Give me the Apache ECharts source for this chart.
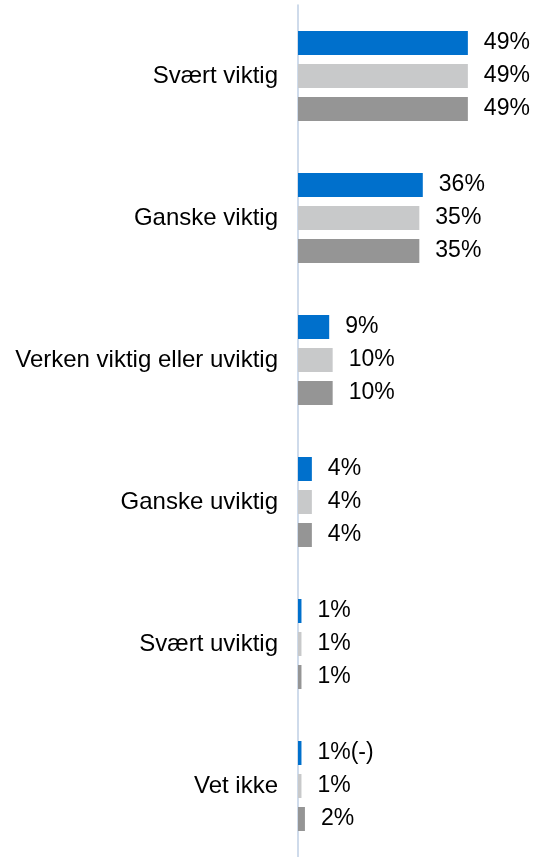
<!DOCTYPE html>
<html>
<head>
<meta charset="utf-8">
<script src="https://cdn.jsdelivr.net/npm/echarts@6/dist/echarts.min.js"></script>
<style>
  html, body { margin: 0; padding: 0; background: #fff; }
  #chart { width: 537px; height: 857px; }
</style>
</head>
<body>
<div id="chart"></div>
<script>
// categories, top to bottom
const categories = ['Svært viktig', 'Ganske viktig', 'Verken viktig eller uviktig', 'Ganske uviktig', 'Svært uviktig', 'Vet ikke'];

// three series (blue, light grey, dark grey)
const valuesA = [49, 36, 9, 4, 1, 1];
const valuesB = [49, 35, 10, 4, 1, 1];
const valuesC = [49, 35, 10, 4, 1, 2];

// extra marks after the label, e.g. significance note
const notesA = ['', '', '', '', '', '(-)'];

const colors = ['#0070CC', '#C8C9CA', '#959595'];

const chart = echarts.init(document.getElementById('chart'));

function makeSeries(data, color, notes) {
  return {
    type: 'bar',
    data: data,
    barWidth: 24,
    barGap: '37.5%',
    itemStyle: { color: color },
    label: {
      show: true,
      position: 'right',
      distance: 16,
      color: '#000',
      fontSize: 23,
      fontFamily: 'Liberation Sans, Arial, sans-serif',
      formatter: function (p) {
        return p.value + '%' + (notes ? notes[p.dataIndex] : '');
      }
    }
  };
}

chart.setOption({
  animation: false,
  grid: { left: 298, right: 31, top: 5, bottom: 0, containLabel: false },
  xAxis: {
    type: 'value',
    min: 0,
    max: 60,
    show: false
  },
  yAxis: {
    type: 'category',
    data: categories,
    inverse: true,
    axisLine: { show: true, lineStyle: { color: '#BFCFE4', width: 1.5 } },
    axisTick: { show: false },
    axisLabel: {
      margin: 20,
      color: '#000',
      fontSize: 24,
      fontFamily: 'Liberation Sans, Arial, sans-serif'
    }
  },
  series: [
    makeSeries(valuesA, colors[0], notesA),
    makeSeries(valuesB, colors[1]),
    makeSeries(valuesC, colors[2])
  ]
});
</script>
</body>
</html>
